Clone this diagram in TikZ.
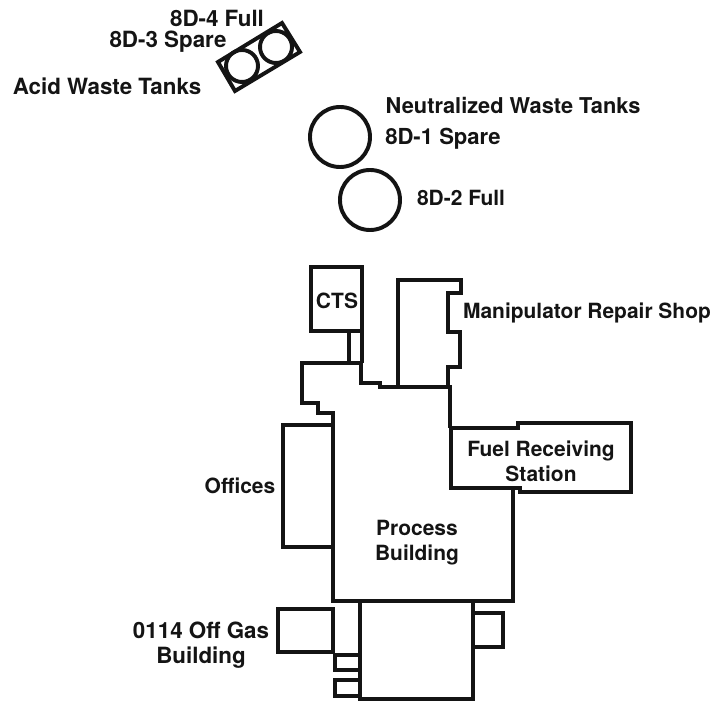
\documentclass[tikz,border=0pt]{standalone}
\usepackage{fontspec}
\setmainfont{TeX Gyre Heros}
\usepackage{xcolor}
\definecolor{plan}{HTML}{141414}
\tikzset{wall/.style={draw=plan, line width=2.8pt, line join=miter},
  lbl/.style={font=\fontsize{14.9}{17.8}\selectfont\bfseries, text=plan, inner sep=0pt, align=center},
  widelbl/.style={lbl, font=\fontsize{15.9}{17.8}\selectfont\bfseries}}
\begin{document}
\begin{tikzpicture}[x=0.025cm, y=-0.025cm]
\useasboundingbox (0,0) rectangle (713,702);

% Acid waste tanks
\draw[wall] (282,23) -- (300,52) -- (235,91) -- (218,62) -- cycle;
\draw[wall] (242,66) circle[radius=0.4cm];
\draw[wall] (276,47) circle[radius=0.4cm];
\node[widelbl] (tankfour) at (217,18) {8D-4 Full};
\node[widelbl] (tankthree) at (168,42) {8D-3 Spare};
\node[widelbl] (acidtanks) at (107,86) {Acid Waste Tanks};

% Neutralized waste tanks
\draw[wall] (340,137) circle[radius=0.75cm];
\draw[wall] (370,200) circle[radius=0.75cm];
\node[lbl, font=\fontsize{15.5}{17.8}\selectfont\bfseries] (neutral) at (513,105) {Neutralized Waste Tanks};
\node[lbl, font=\fontsize{15.7}{17.8}\selectfont\bfseries] (tankone) at (443,139) {8D-1 Spare};
\node[lbl] (tanktwo) at (461,198) {8D-2 Full};

% CTS
\draw[wall] (311,267) rectangle (362,331);
\draw[wall] (349,331) -- (349,363);
\draw[wall] (362,331) -- (362,363);
\node[lbl] (cts) at (337,301) {CTS};

% Process building outline
\draw[wall] (333,425) -- (333,413) -- (318,413) -- (318,403) -- (302,403) -- (302,363)
  -- (361,363) -- (361,383) -- (380,383) -- (380,387) -- (398,387) -- (450,387)
  -- (450,428);
\draw[wall] (333,425) -- (333,601) -- (513,601) -- (513,488);
\node[lbl] (process) at (417,543) {Process\\Building};

% Manipulator repair shop
\draw[wall] (398,387) -- (398,280) -- (461,280) -- (461,293) -- (448,293) -- (448,332)
  -- (460,332) -- (460,367) -- (448,367) -- (448,387);
\node[lbl] (repair) at (587,313) {Manipulator Repair Shop};

% Fuel receiving station
\draw[wall] (451,428) -- (518,428) -- (518,423) -- (631,423) -- (631,492) -- (520,492)
  -- (520,488) -- (451,488) -- cycle;
\node[lbl] (fuel) at (541,461) {Fuel Receiving\\Station};

% Offices
\draw[wall] (333,425) -- (283,425) -- (283,547) -- (333,547);
\node[lbl] (offices) at (240,486) {Offices};

% Lower block
\draw[wall] (360,601) -- (360,699) -- (473,699) -- (473,601);
\draw[wall] (473,613) -- (503,613) -- (503,647) -- (473,647);
\draw[wall] (333,609) -- (278,609) -- (278,652) -- (333,652) -- cycle;
\draw[wall] (360,655) -- (335,655) -- (335,670) -- (360,670);
\draw[wall] (360,680) -- (335,680) -- (335,696) -- (360,696);
\node[widelbl] (offgas) at (201,645) {0114 Off Gas\\Building};
\end{tikzpicture}
\end{document}
